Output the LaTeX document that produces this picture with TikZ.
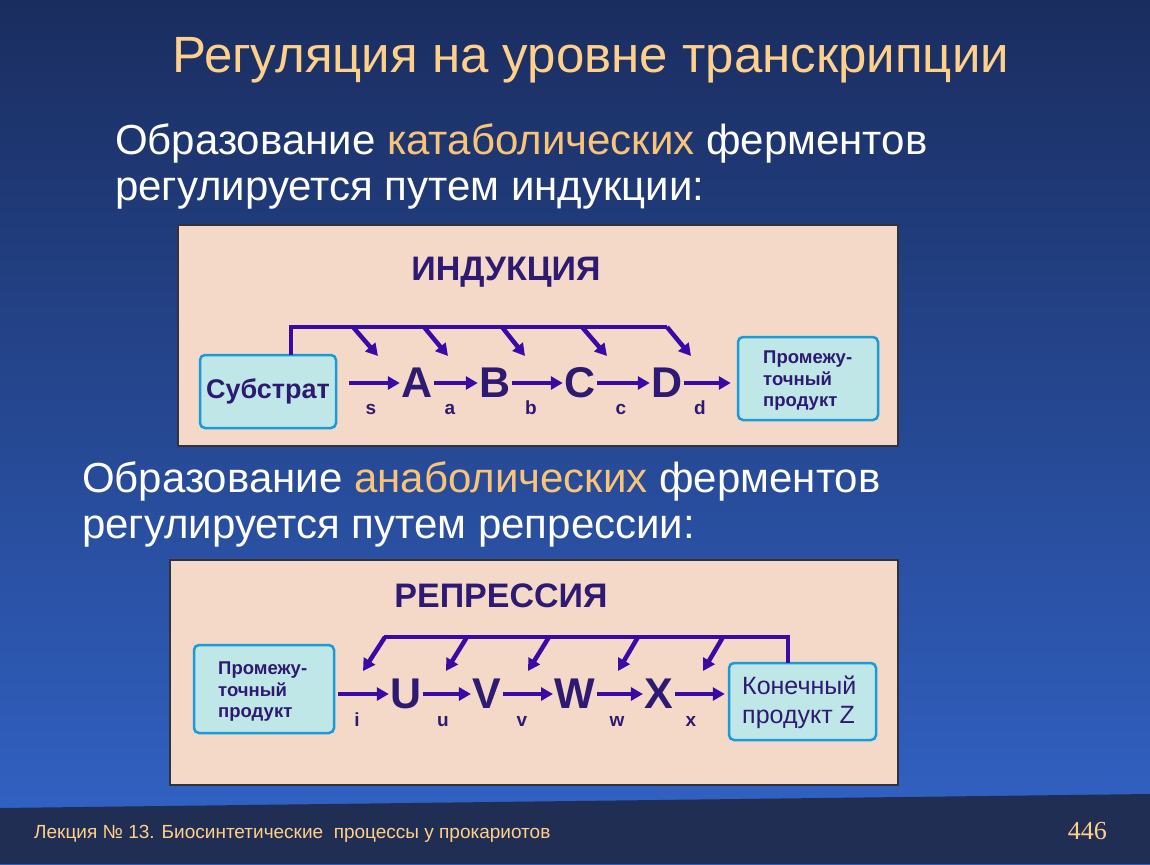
\documentclass[tikz,border=0pt]{standalone}
\usepackage{fontspec}
\setmainfont{Liberation Sans}
\newfontfamily\numfont{Liberation Serif}
\usetikzlibrary{arrows.meta}
\definecolor{bgtop}{RGB}{26,45,95}
\definecolor{bgbot}{RGB}{50,100,200}
\definecolor{footc}{RGB}{33,46,83}
\definecolor{titlec}{RGB}{255,208,138}
\definecolor{hlc}{RGB}{250,196,120}
\definecolor{panelc}{RGB}{245,217,200}
\definecolor{panelb}{RGB}{50,50,60}
\definecolor{boxf}{RGB}{192,231,231}
\definecolor{boxd}{RGB}{26,154,214}
\definecolor{arrc}{RGB}{58,10,165}
\definecolor{txtc}{RGB}{46,26,114}
\tikzset{
  fs/.style={font=\fontsize{#1}{#1}\selectfont},
  panel/.style={fill=panelc, draw=panelb, line width=1.5pt},
  cbox/.style={fill=boxf, draw=boxd, line width=2.5pt, rounded corners=5pt},
  btxt/.style={text=txtc, font=\bfseries\fontsize{#1}{#1}\selectfont, inner sep=0pt},
  letter/.style={text=txtc, font=\bfseries\fontsize{43}{43}\selectfont, inner sep=1.5pt},
  arr/.style={draw=arrc, line width=4.5pt, -{Triangle[length=12pt,width=13pt]}},
  fb/.style={draw=arrc, line width=4.5pt, line cap=butt},
  sub/.style={text=txtc, font=\bfseries\fontsize{19}{19}\selectfont, inner sep=0pt, anchor=base},
  ptxt/.style={text=txtc, align=left, anchor=north west, inner sep=0pt, font=\bfseries\fontsize{18.5}{21.5}\selectfont},
}
\begin{document}
\begin{tikzpicture}[x=1pt,y=-1pt]
\useasboundingbox (0,0) rectangle (1150,864);
\shade[top color=bgtop, bottom color=bgbot] (0,0) rectangle (1150,864);
\fill[footc] (0,808) -- (1150,794) -- (1150,864) -- (0,864) -- cycle;

% title and body text
\node[anchor=base west, inner sep=0pt, text=titlec, fs=51] (title) at (172,73) {Регуляция на уровне транскрипции};
\node[anchor=base west, inner sep=0pt, text=white, fs=42] (l1) at (115,154) {Образование \textcolor{hlc}{катаболических} ферментов};
\node[anchor=base west, inner sep=0pt, text=white, fs=42] (l2) at (115,200) {регулируется путем индукции:};
\node[anchor=base west, inner sep=0pt, text=white, fs=42] (l3) at (82,492) {Образование \textcolor{hlc}{анаболических} ферментов};
\node[anchor=base west, inner sep=0pt, text=white, fs=42] (l4) at (82,538) {регулируется путем репрессии:};

% footer
\node[anchor=base west, inner sep=0pt, text=titlec, fs=19] (foot) at (34,838) {Лекция № 13. Биосинтетические\ \ процессы у прокариотов};
\node[anchor=base east, inner sep=0pt, text=titlec, font=\numfont\fontsize{26}{26}\selectfont] (page) at (1107,839) {446};

% ---------- Induction panel ----------
\path[panel] (178,225) rectangle (898,446);
\node[btxt=34] (indt) at (506,272) {ИНДУКЦИЯ};
\node[cbox, minimum width=136pt, minimum height=73pt] (subst) at (268,391.5) {};
\node[btxt=27] at (subst.center) {Субстрат};
\node[cbox, minimum width=140pt, minimum height=83pt] (prom1) at (808,378.5) {};
\node[ptxt] (prom1t) at (763,351) {Промежу-\\точный\\продукт};

\node[letter] (A) at (417,383) {A};
\node[letter] (B) at (495,383) {B};
\node[letter] (C) at (580,383) {C};
\node[letter] (D) at (667,383) {D};

\draw[arr, shorten <=12pt] (subst.east |- A.west) -- (A.west);
\draw[arr] (A.east) -- (B.west);
\draw[arr] (B.east) -- (C.west);
\draw[arr] (C.east) -- (D.west);
\draw[arr, shorten >=6pt] (D.east) -- (prom1.west |- D.east);
\node[sub] (ls) at (371,414) {s};
\node[sub] (la) at (450,414) {a};
\node[sub] (lb) at (531,414) {b};
\node[sub] (lc) at (621,414) {c};
\node[sub] (ld) at (700,414) {d};

\coordinate (if0) at (291,355);
\coordinate (if1) at (291,327);
\coordinate (if2) at (667,327);
\draw[fb, line join=miter] (if0) -- (if1) -- (if2);
\foreach \sx/\ex [count=\i] in {353/378, 424/448, 502/525, 582/607, 667/691} {
  \coordinate (is\i) at (\sx,327);
  \coordinate (ie\i) at (\ex,356);
  \draw[arr] (is\i) -- (ie\i);
}

% ---------- Repression panel ----------
\path[panel] (170,560) rectangle (898,785);
\node[btxt=34] (rept) at (501,596) {РЕПРЕССИЯ};
\node[cbox, minimum width=140pt, minimum height=88pt] (prom2) at (264,689) {};
\node[ptxt] (prom2t) at (218,662) {Промежу-\\точный\\продукт};
\node[cbox, minimum width=147pt, minimum height=77pt] (fin) at (802.5,701.5) {};
\node[anchor=north west, inner sep=0pt, align=left, text=txtc, font=\fontsize{25}{29}\selectfont] (fint) at (742,676) {Конечный\\продукт Z};

\node[letter] (U) at (406,694) {U};
\node[letter] (V) at (487,694) {V};
\node[letter] (W) at (575,694) {W};
\node[letter] (X) at (659,694) {X};

\draw[arr, shorten <=3pt] (prom2.east |- U.west) -- (U.west);
\draw[arr] (U.east) -- (V.west);
\draw[arr] (V.east) -- (W.west);
\draw[arr] (W.east) -- (X.west);
\draw[arr, shorten >=3pt] (X.east) -- (fin.west |- X.east);
\node[sub] (li) at (357,726) {i};
\node[sub] (lu) at (443,726) {u};
\node[sub] (lv) at (522,726) {v};
\node[sub] (lw) at (617,726) {w};
\node[sub] (lx) at (691,726) {x};

\coordinate (rf0) at (788,663);
\coordinate (rf1) at (788,637);
\coordinate (rf2) at (384,637);
\draw[fb, line join=miter] (rf0) -- (rf1) -- (rf2);
\foreach \sx/\ex [count=\i] in {385/363, 467/446, 549/528, 638/618, 723/703} {
  \coordinate (rs\i) at (\sx,637);
  \coordinate (re\i) at (\ex,671);
  \draw[arr] (rs\i) -- (re\i);
}
\end{tikzpicture}
\end{document}
